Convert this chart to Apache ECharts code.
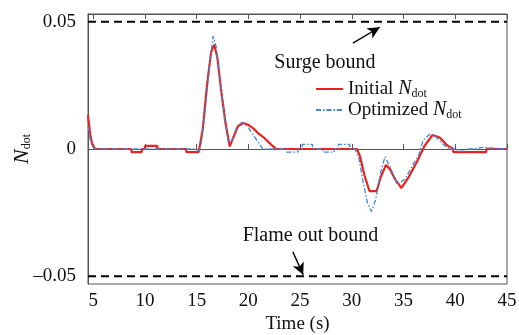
<!DOCTYPE html>
<html>
<head>
<meta charset="utf-8">
<script src="https://cdn.jsdelivr.net/npm/echarts@6/dist/echarts.min.js"></script>
<style>html,body{margin:0;padding:0;background:#fff}#c{width:519px;height:335px}</style>
</head>
<body>
<div id="c"></div>
<script>
// ---- data ----
const xTicks = [5, 10, 15, 20, 25, 30, 35, 40, 45];
const yTicks = [-0.05, 0, 0.05];
const boundUpper = 0.05;
const boundLower = -0.05;
const xRange = [4.5, 45];
const yRange = [-0.053, 0.053];

const initialT = [4.5, 4.7, 4.9, 5.2, 8.7, 8.7, 9.7, 9.7, 10.0, 10.0, 11.2, 11.2, 14.0, 14.0, 15.2,
  15.3, 15.6, 16.0, 16.4, 16.7, 17.0, 17.4, 17.8, 18.2, 18.6, 19.0, 19.5, 20.0, 20.5, 21.0, 21.5,
  22.0, 22.4, 22.7, 30.5, 30.8, 31.2, 31.7, 32.4, 32.8, 33.3, 33.7, 34.2, 34.8, 35.5, 36.3, 37.0,
  37.8, 38.5, 39.2, 39.8, 39.8, 43.0, 43.0, 45];
const initialV = [0.0133, 0.006, 0.002, 0, 0, -0.0012, -0.0012, 0, 0, 0.0012, 0.0012, 0, 0, -0.0012, -0.0012,
  0.001, 0.008, 0.025, 0.038, 0.041, 0.036, 0.022, 0.010, 0.001, 0.005, 0.009, 0.0102, 0.0095, 0.008, 0.006, 0.0045,
  0.0025, 0.001, 0, 0, -0.003, -0.010, -0.0165, -0.0165, -0.011, -0.0063, -0.008, -0.012, -0.0153, -0.011, -0.005, 0.001,
  0.0055, 0.0045, 0.0015, 0, -0.0012, -0.0012, 0, 0];

const optimizedT = [4.5, 4.7, 4.9, 5.2, 14.8, 14.8, 15.3, 15.5, 15.9, 16.3, 16.6, 16.9, 17.3, 17.7, 18.1,
  18.5, 18.9, 19.4, 19.9, 20.4, 20.9, 21.4, 23.7, 23.7, 24.8, 24.8, 25.2, 25.2, 26.2, 26.2, 27.2, 27.2,
  28.3, 28.3, 28.7, 28.7, 29.8, 29.8, 30.3, 30.7, 31.1, 31.5, 31.9, 32.3, 32.8, 33.2, 33.7, 34.4, 35.1,
  35.8, 36.5, 36.9, 37.6, 38.2, 38.8, 39.4, 40.0, 40.0, 41.2, 41.2, 41.5, 41.5, 42.7, 42.7, 45];
const optimizedV = [0.009, 0.004, 0.001, 0, 0, -0.0006, -0.0006, 0.004, 0.018, 0.035, 0.0443, 0.040, 0.026, 0.012, 0.002,
  0.004, 0.009, 0.0105, 0.009, 0.006, 0.003, 0, 0, -0.0012, -0.0012, 0, 0, 0.0018, 0.0018, 0, 0, -0.0012,
  -0.0012, 0, 0, 0.0018, 0.0018, 0, 0, -0.004, -0.013, -0.021, -0.0245, -0.020, -0.009, -0.0031, -0.007, -0.014, -0.012,
  -0.007, -0.002, 0.0035, 0.006, 0.0045, 0.002, 0, 0, -0.0008, -0.0008, 0, 0, 0.0006, 0.0006, 0, 0];

// annotation anchors (data space)
const surgeText = [27.4, 0.0337];
const surgeArrow = [[30.1, 0.0416], [32.7, 0.0478]];
const flameText = [26.0, -0.0341];
const flameArrow = [[24.3, -0.0404], [25.3, -0.0494]];

const zip = (a, b) => a.map((t, i) => [t, b[i]]);
const FONT = 'Liberation Serif';

const chart = echarts.init(document.getElementById('c'), null, {renderer: 'canvas'});
const axisCommon = {
  axisLine: {show: true, lineStyle: {color: '#555', width: 1}},
  splitLine: {show: false}
};
chart.setOption({
  animation: false,
  backgroundColor: '#fff',
  grid: {left: 88, right: 12, top: 14, bottom: 51, show: true, borderColor: '#555', borderWidth: 1,
    containLabel: false, outerBoundsMode: 'none'},
  legend: {
    orient: 'vertical', left: 315, top: 79, padding: 0, itemGap: 0, itemWidth: 27, itemHeight: 14,
    data: ['Initial', 'Optimized'],
    itemStyle: {opacity: 0, borderWidth: 0},
    textStyle: {fontFamily: FONT, fontSize: 19, color: '#111',
      rich: {
        t: {fontFamily: FONT, fontSize: 19, color: '#111'},
        n: {fontFamily: FONT, fontSize: 20, fontStyle: 'italic', color: '#111'},
        s: {fontFamily: FONT, fontSize: 12, color: '#111', padding: [10, 0, 0, 0]}
      }},
    formatter: name => '{t|' + name + ' }{n|N}{s|dot}'
  },
  xAxis: [{
    type: 'value', min: xRange[0], max: xRange[1], ...axisCommon,
    name: 'Time (s)', nameLocation: 'middle', nameGap: 31, nameMoveOverlap: false,
    nameTextStyle: {fontFamily: FONT, fontSize: 19, color: '#111'},
    axisTick: {show: true, inside: true, length: 5, customValues: xTicks, lineStyle: {color: '#555'}},
    axisLabel: {customValues: xTicks, fontFamily: FONT, fontSize: 19, color: '#111', margin: 8}
  }, {
    type: 'value', position: 'top', min: xRange[0], max: xRange[1], ...axisCommon,
    axisTick: {show: true, inside: true, length: 5, customValues: xTicks, lineStyle: {color: '#555'}},
    axisLabel: {show: false}
  }],
  yAxis: {
    type: 'value', min: yRange[0], max: yRange[1], ...axisCommon,
    name: '{n|N}{s|dot}', nameLocation: 'middle', nameGap: 55, nameRotate: 90, nameMoveOverlap: false,
    nameTextStyle: {rich: {
      n: {fontFamily: FONT, fontSize: 22, fontStyle: 'italic', color: '#111'},
      s: {fontFamily: FONT, fontSize: 12, color: '#111', padding: [10, 0, 0, 0]}
    }},
    axisTick: {show: true, inside: true, length: 4, customValues: yTicks, lineStyle: {color: '#555'}},
    axisLabel: {customValues: yTicks, fontFamily: FONT, fontSize: 19, color: '#111', margin: 12,
      formatter: v => v === 0 ? '0' : (v < 0 ? '\u2013' + Math.abs(v).toFixed(2) : v.toFixed(2))}
  },
  series: [
    {
      name: 'Surge', type: 'line', symbol: 'none', silent: true, z: 1,
      data: [[xRange[0], boundUpper], [xRange[1], boundUpper]],
      lineStyle: {color: '#000', width: 2, type: [8, 5]},
      markLine: {
        silent: true, symbol: ['none', 'arrow'], symbolSize: [9, 12],
        lineStyle: {color: '#000', width: 1.4, type: 'solid'}, label: {show: false},
        data: [[{coord: surgeArrow[0]}, {coord: surgeArrow[1]}]]
      },
      markPoint: {
        symbol: 'circle', symbolSize: 0,
        label: {show: true, formatter: 'Surge bound', fontFamily: FONT, fontSize: 20, color: '#111', position: 'inside'},
        data: [{coord: surgeText}]
      }
    },
    {
      name: 'Flame', type: 'line', symbol: 'none', silent: true, z: 1,
      data: [[xRange[0], boundLower], [xRange[1], boundLower]],
      lineStyle: {color: '#000', width: 2, type: [8, 5]},
      markLine: {
        silent: true, symbol: ['none', 'arrow'], symbolSize: [9, 12],
        lineStyle: {color: '#000', width: 1.4, type: 'solid'}, label: {show: false},
        data: [[{coord: flameArrow[0]}, {coord: flameArrow[1]}]]
      },
      markPoint: {
        symbol: 'circle', symbolSize: 0,
        label: {show: true, formatter: 'Flame out bound', fontFamily: FONT, fontSize: 20, color: '#111', position: 'inside'},
        data: [{coord: flameText}]
      }
    },
    {
      name: 'Initial', type: 'line', symbol: 'none', z: 3,
      data: zip(initialT, initialV),
      lineStyle: {color: '#e8231f', width: 2.2}, itemStyle: {color: '#e8231f'}
    },
    {
      name: 'Optimized', type: 'line', symbol: 'none', z: 4,
      data: zip(optimizedT, optimizedV),
      lineStyle: {color: '#3f86d6', width: 1.3, type: [5, 2, 1.5, 2]}, itemStyle: {color: '#3f86d6'}
    }
  ]
});
</script>
</body>
</html>
